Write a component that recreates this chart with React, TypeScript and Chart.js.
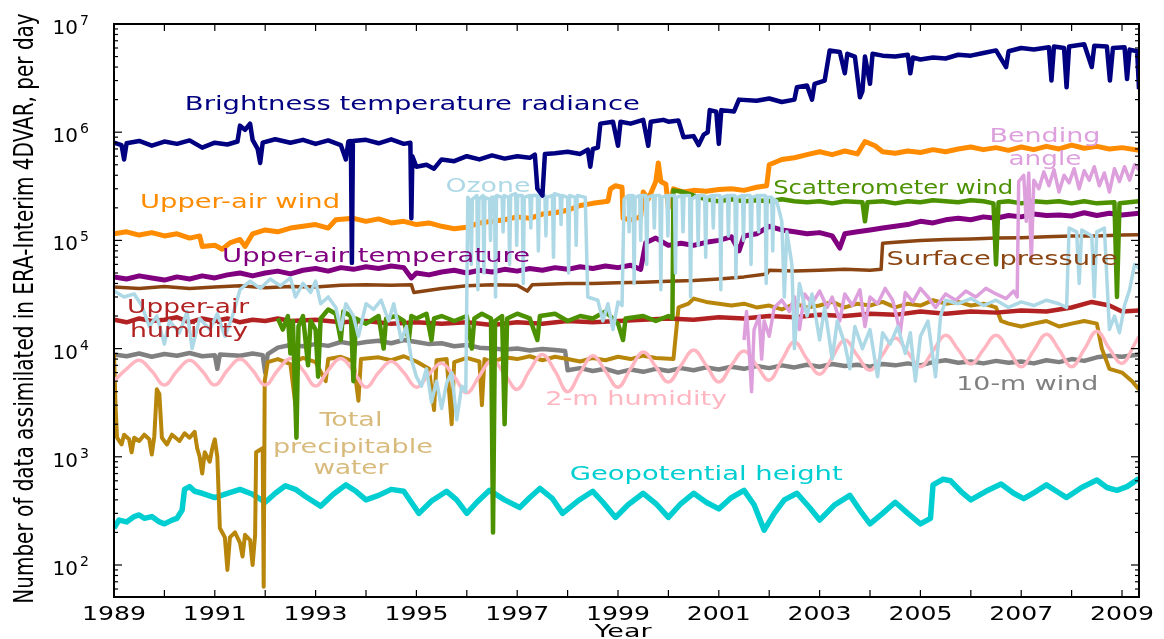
import React, { useEffect, useRef } from "react";
import { Chart, registerables } from "chart.js";

Chart.register(...registerables);

type Pt = [number, number];

const X_MIN = 1989;
const X_MAX = 2009.337;
const Y_MIN = 50.6;
const Y_MAX = 1e7;

const yearTicks = [1989, 1990, 1991, 1992, 1993, 1994, 1995, 1996, 1997, 1998, 1999, 2000, 2001, 2002, 2003, 2004, 2005, 2006, 2007, 2008, 2009];
const yearLabels = [1989, 1991, 1993, 1995, 1997, 1999, 2001, 2003, 2005, 2007, 2009];
const decadeTicks = [1e2, 1e3, 1e4, 1e5, 1e6, 1e7];
const decadeExponents = ["2", "3", "4", "5", "6", "7"];
const minorDecades = [10, 1e2, 1e3, 1e4, 1e5, 1e6];
const minorMultipliers = [2, 3, 4, 5, 6, 7, 8, 9];

const brightnessTemperatureRadiance: Pt[] = [
  [1989.0, 8.0e5], [1989.15, 7.6e5], [1989.2, 5.6e5], [1989.25, 7.9e5], [1989.5, 8.3e5], [1989.75, 7.5e5],
  [1990.0, 8.2e5], [1990.25, 7.8e5], [1990.5, 8.4e5], [1990.75, 7.2e5], [1991.0, 8.0e5], [1991.25, 7.7e5],
  [1991.45, 8.2e5], [1991.5, 1.15e6], [1991.6, 1.05e6], [1991.7, 1.2e6], [1991.75, 8.5e5], [1991.85, 7.0e5],
  [1991.9, 5.2e5], [1991.95, 8.0e5], [1992.2, 8.6e5], [1992.5, 8.0e5], [1992.75, 8.5e5], [1993.0, 7.8e5],
  [1993.25, 8.4e5], [1993.5, 7.6e5], [1993.6, 5.6e5], [1993.65, 8.2e5], [1993.7, 8.3e5], [1993.72, 6.2e4],
  [1993.74, 8.3e5], [1994.0, 8.5e5], [1994.25, 7.9e5], [1994.5, 8.6e5], [1994.75, 7.8e5], [1994.88, 8.0e5],
  [1994.9, 1.6e5], [1994.92, 6.0e5], [1995.0, 4.8e5], [1995.2, 5.0e5], [1995.35, 4.6e5], [1995.5, 5.6e5],
  [1995.75, 5.4e5], [1996.0, 6.0e5], [1996.25, 5.6e5], [1996.5, 6.1e5], [1996.75, 5.7e5], [1997.0, 6.0e5],
  [1997.25, 5.8e5], [1997.35, 6.2e5], [1997.4, 3.0e5], [1997.5, 2.6e5], [1997.55, 6.3e5], [1997.75, 6.4e5],
  [1998.0, 6.6e5], [1998.25, 6.3e5], [1998.4, 6.9e5], [1998.45, 4.8e5], [1998.5, 7.0e5], [1998.6, 7.2e5],
  [1998.65, 1.2e6], [1998.9, 1.25e6], [1999.0, 7.5e5], [1999.05, 1.25e6], [1999.25, 1.2e6], [1999.5, 1.3e6],
  [1999.6, 7.5e5], [1999.65, 1.25e6], [1999.9, 1.3e6], [2000.0, 1.25e6], [2000.2, 1.28e6], [2000.3, 9.0e5],
  [2000.5, 9.2e5], [2000.6, 7.6e5], [2000.7, 9.5e5], [2000.78, 1.0e6], [2000.82, 1.6e6], [2000.95, 1.55e6],
  [2001.0, 7.8e5], [2001.05, 1.6e6], [2001.3, 1.55e6], [2001.4, 2.0e6], [2001.75, 1.95e6], [2002.0, 2.05e6],
  [2002.25, 1.9e6], [2002.5, 2.0e6], [2002.55, 2.6e6], [2002.75, 2.7e6], [2002.85, 2.0e6], [2002.9, 2.8e6],
  [2003.1, 3.0e6], [2003.2, 5.7e6], [2003.4, 5.5e6], [2003.5, 3.5e6], [2003.55, 5.3e6], [2003.7, 5.0e6],
  [2003.8, 2.1e6], [2003.85, 2.4e6], [2003.9, 5.0e6], [2004.0, 2.8e6], [2004.05, 5.3e6], [2004.25, 5.1e6],
  [2004.5, 5.0e6], [2004.75, 5.2e6], [2004.8, 3.5e6], [2004.85, 4.9e6], [2005.0, 4.7e6], [2005.25, 4.9e6],
  [2005.5, 4.8e6], [2005.75, 5.2e6], [2006.0, 5.1e6], [2006.25, 5.4e6], [2006.5, 5.7e6], [2006.7, 4.0e6],
  [2006.75, 5.6e6], [2007.0, 6.0e6], [2007.25, 5.8e6], [2007.55, 6.1e6], [2007.6, 3.0e6], [2007.65, 6.2e6],
  [2007.85, 6.0e6], [2007.9, 2.6e6], [2007.95, 6.2e6], [2008.25, 6.5e6], [2008.4, 4.0e6], [2008.45, 6.3e6],
  [2008.7, 6.2e6], [2008.76, 3.0e6], [2008.82, 6.0e6], [2009.05, 6.1e6], [2009.1, 3.1e6], [2009.15, 5.8e6],
  [2009.3, 5.6e6], [2009.337, 2.5e6],
];

const upperAirWind: Pt[] = [
  [1989.0, 1.15e5], [1989.25, 1.2e5], [1989.5, 1.12e5], [1989.75, 1.18e5], [1990.0, 1.1e5], [1990.25, 1.15e5],
  [1990.5, 1.05e5], [1990.7, 1.1e5], [1990.75, 8.8e4], [1991.0, 9.0e4], [1991.15, 8.3e4], [1991.3, 9.5e4],
  [1991.5, 1.02e5], [1991.6, 8.8e4], [1991.75, 1.15e5], [1992.0, 1.25e5], [1992.25, 1.2e5], [1992.5, 1.3e5],
  [1992.75, 1.35e5], [1993.0, 1.4e5], [1993.25, 1.3e5], [1993.4, 1.55e5], [1993.75, 1.6e5], [1994.0, 1.5e5],
  [1994.25, 1.58e5], [1994.5, 1.45e5], [1994.75, 1.5e5], [1995.0, 1.4e5], [1995.25, 1.45e5], [1995.5, 1.35e5],
  [1995.75, 1.28e5], [1996.0, 1.32e5], [1996.25, 1.45e5], [1996.5, 1.5e5], [1996.75, 1.55e5], [1997.0, 1.65e5],
  [1997.25, 1.6e5], [1997.5, 1.75e5], [1997.75, 1.8e5], [1998.0, 1.9e5], [1998.25, 2.1e5], [1998.5, 2.2e5],
  [1998.8, 2.3e5], [1998.85, 3.0e5], [1998.95, 3.2e5], [1999.08, 3.1e5], [1999.1, 1.6e5], [1999.25, 1.55e5],
  [1999.45, 1.65e5], [1999.5, 2.8e5], [1999.6, 2.4e5], [1999.75, 3.5e5], [1999.8, 5.2e5], [1999.85, 3.5e5],
  [1999.95, 3.3e5], [2000.0, 2.0e5], [2000.1, 3.0e5], [2000.3, 2.8e5], [2000.5, 2.9e5], [2000.75, 2.85e5],
  [2001.0, 2.95e5], [2001.25, 3.0e5], [2001.5, 2.9e5], [2001.75, 3.1e5], [2001.95, 3.2e5], [2002.0, 5.0e5],
  [2002.25, 5.6e5], [2002.5, 5.8e5], [2002.75, 6.2e5], [2003.0, 6.6e5], [2003.25, 6.2e5], [2003.5, 6.7e5],
  [2003.75, 6.3e5], [2003.9, 8.2e5], [2004.1, 7.5e5], [2004.25, 6.6e5], [2004.5, 6.4e5], [2004.75, 6.7e5],
  [2005.0, 6.5e5], [2005.25, 6.9e5], [2005.5, 6.6e5], [2005.75, 7.0e5], [2006.0, 7.3e5], [2006.25, 6.9e5],
  [2006.5, 7.2e5], [2006.75, 6.8e5], [2007.0, 7.3e5], [2007.25, 6.9e5], [2007.5, 7.4e5], [2007.75, 7.0e5],
  [2008.0, 7.6e5], [2008.25, 7.1e5], [2008.5, 7.4e5], [2008.75, 7.0e5], [2009.0, 7.2e5], [2009.337, 6.8e5],
];

const upperAirTemperature: Pt[] = [
  [1989.0, 4.6e4], [1989.25, 4.4e4], [1989.5, 4.7e4], [1989.75, 4.5e4], [1990.0, 4.3e4], [1990.25, 4.6e4],
  [1990.5, 4.4e4], [1990.75, 4.7e4], [1991.0, 4.5e4], [1991.25, 4.8e4], [1991.5, 5.0e4], [1991.75, 4.7e4],
  [1992.0, 5.0e4], [1992.25, 5.2e4], [1992.5, 4.9e4], [1992.75, 5.3e4], [1993.0, 5.5e4], [1993.25, 5.2e4],
  [1993.5, 5.6e4], [1993.75, 5.4e4], [1994.0, 5.7e4], [1994.25, 5.5e4], [1994.5, 5.8e4], [1994.75, 5.6e4],
  [1994.9, 4.5e4], [1995.0, 5.0e4], [1995.25, 4.8e4], [1995.5, 5.1e4], [1995.75, 5.3e4], [1996.0, 5.0e4],
  [1996.25, 5.3e4], [1996.5, 5.1e4], [1996.75, 5.4e4], [1997.0, 5.2e4], [1997.25, 5.5e4], [1997.5, 5.3e4],
  [1997.75, 5.6e4], [1998.0, 5.4e4], [1998.25, 5.7e4], [1998.5, 5.5e4], [1998.75, 5.8e4], [1999.0, 5.6e4],
  [1999.25, 5.9e4], [1999.45, 5.4e4], [1999.55, 9.5e4], [1999.75, 1.05e5], [2000.0, 9.0e4], [2000.25, 9.4e4],
  [2000.5, 9.0e4], [2000.75, 9.6e4], [2001.0, 1.0e5], [2001.25, 1.08e5], [2001.4, 8.0e4], [2001.5, 1.1e5],
  [2001.75, 1.15e5], [2002.0, 1.35e5], [2002.25, 1.25e5], [2002.5, 1.2e5], [2002.75, 1.15e5], [2003.0, 1.18e5],
  [2003.25, 1.1e5], [2003.4, 8.5e4], [2003.5, 1.15e5], [2003.75, 1.2e5], [2004.0, 1.25e5], [2004.25, 1.3e5],
  [2004.5, 1.35e5], [2004.75, 1.4e5], [2005.0, 1.5e5], [2005.25, 1.45e5], [2005.5, 1.55e5], [2005.75, 1.6e5],
  [2006.0, 1.55e5], [2006.25, 1.65e5], [2006.5, 1.6e5], [2006.75, 1.7e5], [2007.0, 1.65e5], [2007.25, 1.75e5],
  [2007.5, 1.7e5], [2007.75, 1.72e5], [2008.0, 1.68e5], [2008.25, 1.8e5], [2008.5, 1.7e5], [2008.75, 1.78e5],
  [2009.0, 1.72e5], [2009.337, 1.78e5],
];

const surfacePressure: Pt[] = [
  [1989.0, 3.7e4], [1989.5, 3.6e4], [1990.0, 3.75e4], [1990.5, 3.6e4], [1991.0, 3.7e4], [1991.5, 3.8e4],
  [1992.0, 3.65e4], [1992.5, 3.75e4], [1993.0, 3.7e4], [1993.5, 3.85e4], [1994.0, 3.9e4], [1994.5, 3.85e4],
  [1994.9, 3.9e4], [1994.95, 3.3e4], [1995.5, 3.6e4], [1996.0, 3.8e4], [1996.5, 3.9e4], [1997.0, 3.85e4],
  [1997.2, 3.4e4], [1997.3, 3.9e4], [1998.0, 4.0e4], [1998.5, 4.0e4], [1999.0, 4.05e4], [1999.5, 4.1e4],
  [2000.0, 4.2e4], [2000.5, 4.25e4], [2001.0, 4.4e4], [2001.5, 4.6e4], [2001.95, 4.9e4], [2002.0, 5.3e4],
  [2002.5, 5.2e4], [2003.0, 5.3e4], [2003.5, 5.4e4], [2004.0, 5.3e4], [2004.22, 5.4e4], [2004.25, 9.4e4],
  [2004.5, 9.6e4], [2005.0, 1.0e5], [2005.5, 1.02e5], [2006.0, 1.03e5], [2006.5, 1.05e5], [2007.0, 1.06e5],
  [2007.5, 1.08e5], [2008.0, 1.1e5], [2008.5, 1.1e5], [2009.0, 1.12e5], [2009.337, 1.13e5],
];

const upperAirHumidity: Pt[] = [
  [1989.0, 1.85e4], [1989.25, 1.75e4], [1989.5, 1.9e4], [1989.75, 1.8e4], [1990.0, 1.85e4], [1990.25, 1.95e4],
  [1990.5, 1.75e4], [1990.75, 1.9e4], [1991.0, 1.8e4], [1991.25, 1.9e4], [1991.5, 1.75e4], [1991.75, 1.85e4],
  [1992.0, 1.8e4], [1992.25, 1.9e4], [1992.5, 1.8e4], [1993.0, 1.85e4], [1993.5, 1.75e4], [1994.0, 1.8e4],
  [1994.5, 1.7e4], [1995.0, 1.75e4], [1995.5, 1.7e4], [1996.0, 1.75e4], [1996.5, 1.65e4], [1997.0, 1.75e4],
  [1997.5, 1.7e4], [1998.0, 1.8e4], [1998.5, 1.75e4], [1999.0, 1.8e4], [1999.5, 1.85e4], [2000.0, 1.9e4],
  [2000.5, 1.85e4], [2001.0, 1.95e4], [2001.5, 1.9e4], [2002.0, 2.0e4], [2002.5, 1.95e4], [2003.0, 2.05e4],
  [2003.5, 2.0e4], [2004.0, 2.1e4], [2004.5, 2.05e4], [2005.0, 2.2e4], [2005.5, 2.1e4], [2006.0, 2.2e4],
  [2006.5, 2.15e4], [2007.0, 2.25e4], [2007.5, 2.2e4], [2008.0, 2.4e4], [2008.4, 2.7e4], [2008.75, 2.5e4],
  [2009.0, 2.2e4], [2009.337, 2.25e4],
];

const scatterometerWind: Pt[] = [
  [1992.25, 1.9e4], [1992.35, 1.5e4], [1992.45, 2.0e4], [1992.5, 9.0e3], [1992.55, 1.8e4], [1992.62, 1.5e3],
  [1992.66, 1.6e4], [1992.75, 2.0e4], [1992.85, 7.0e3], [1992.9, 1.8e4], [1993.0, 1.5e4], [1993.05, 5.5e3],
  [1993.1, 1.9e4], [1993.25, 2.3e4], [1993.4, 2.1e4], [1993.5, 1.2e4], [1993.55, 2.2e4], [1993.7, 2.0e4],
  [1993.75, 5.0e3], [1993.8, 1.9e4], [1994.0, 1.7e4], [1994.25, 2.0e4], [1994.35, 1.0e4], [1994.4, 1.9e4],
  [1994.6, 2.0e4], [1994.75, 1.8e4], [1994.85, 1.2e4], [1994.9, 2.0e4], [1995.0, 1.9e4], [1995.2, 2.1e4],
  [1995.3, 1.2e4], [1995.35, 1.9e4], [1995.5, 2.0e4], [1995.75, 1.8e4], [1996.0, 2.0e4], [1996.1, 1.0e4],
  [1996.15, 1.9e4], [1996.3, 2.1e4], [1996.48, 1.9e4], [1996.52, 2.0e2], [1996.56, 1.8e4], [1996.7, 2.0e4],
  [1996.75, 2.0e3], [1996.8, 1.9e4], [1997.0, 2.1e4], [1997.25, 1.9e4], [1997.4, 1.2e4], [1997.45, 2.0e4],
  [1997.75, 2.1e4], [1998.0, 1.8e4], [1998.25, 2.0e4], [1998.5, 1.9e4], [1998.75, 2.2e4], [1999.0, 1.7e4],
  [1999.1, 1.2e4], [1999.15, 1.9e4], [1999.5, 2.0e4], [1999.75, 1.8e4], [2000.0, 2.0e4], [2000.08, 1.9e4],
  [2000.1, 2.9e5], [2000.3, 2.8e5], [2000.5, 2.6e5], [2000.75, 2.4e5], [2001.0, 2.3e5], [2001.25, 2.4e5],
  [2001.5, 2.3e5], [2001.75, 2.35e5], [2002.0, 2.3e5], [2002.25, 2.4e5], [2002.5, 2.3e5], [2002.75, 2.25e5],
  [2003.0, 2.3e5], [2003.25, 2.2e5], [2003.5, 2.3e5], [2003.85, 2.25e5], [2003.9, 1.5e5], [2003.95, 2.25e5],
  [2004.25, 2.3e5], [2004.5, 2.2e5], [2004.75, 2.3e5], [2005.0, 2.25e5], [2005.25, 2.35e5], [2005.5, 2.3e5],
  [2005.75, 2.25e5], [2006.0, 2.35e5], [2006.25, 2.3e5], [2006.45, 2.2e5], [2006.5, 6.0e4], [2006.55, 2.25e5],
  [2006.75, 2.3e5], [2007.0, 2.2e5], [2007.25, 2.3e5], [2007.5, 2.25e5], [2007.75, 2.3e5], [2008.0, 2.2e5],
  [2008.25, 2.3e5], [2008.5, 2.2e5], [2008.85, 2.25e5], [2008.9, 3.0e4], [2008.95, 2.2e5], [2009.337, 2.3e5],
];

const ozone: Pt[] = [
  [1989.0, 3.4e4], [1989.2, 3.0e4], [1989.4, 3.2e4], [1989.55, 2.5e4], [1989.7, 1.6e4], [1989.85, 2.0e4],
  [1990.0, 1.1e4], [1990.1, 1.8e4], [1990.3, 1.4e4], [1990.45, 2.2e4], [1990.55, 1.0e4], [1990.7, 1.9e4],
  [1990.9, 1.5e4], [1991.05, 2.1e4], [1991.2, 1.3e4], [1991.35, 2.0e4], [1991.5, 3.5e4], [1991.7, 4.2e4],
  [1991.9, 3.6e4], [1992.1, 4.4e4], [1992.3, 3.8e4], [1992.5, 4.5e4], [1992.6, 3.0e4], [1992.75, 4.0e4],
  [1992.9, 3.3e4], [1993.0, 4.2e4], [1993.1, 2.6e4], [1993.25, 3.0e4], [1993.4, 2.4e4], [1993.5, 1.5e4],
  [1993.6, 2.6e4], [1993.75, 2.0e4], [1993.85, 1.3e4], [1994.0, 2.6e4], [1994.15, 2.3e4], [1994.3, 2.8e4],
  [1994.45, 1.8e4], [1994.55, 2.6e4], [1994.7, 1.2e4], [1994.8, 1.6e4], [1994.9, 8.0e3], [1995.0, 5.5e3],
  [1995.1, 4.5e3], [1995.2, 6.5e3], [1995.3, 3.2e3], [1995.4, 5.0e3], [1995.5, 2.8e3], [1995.6, 4.8e3],
  [1995.7, 6.0e3], [1995.8, 2.2e3], [1995.9, 4.5e3], [1995.98, 4.0e3], [1996.02, 2.5e5], [1996.07, 2.3e5],
  [1996.09, 6.0e4], [1996.11, 2.4e5], [1996.2, 2.6e5], [1996.22, 3.5e4], [1996.24, 2.4e5], [1996.32, 2.6e5],
  [1996.34, 5.0e4], [1996.36, 2.5e5], [1996.45, 2.4e5], [1996.47, 1.0e5], [1996.49, 2.5e5], [1996.55, 2.5e5],
  [1996.57, 3.0e4], [1996.59, 2.6e5], [1996.7, 2.5e5], [1996.72, 1.2e5], [1996.74, 2.6e5], [1996.83, 2.5e5],
  [1996.85, 6.0e4], [1996.87, 2.6e5], [1996.97, 2.7e5], [1996.99, 9.0e4], [1997.01, 2.6e5], [1997.1, 2.6e5],
  [1997.12, 4.0e4], [1997.14, 2.5e5], [1997.25, 2.6e5], [1997.27, 1.3e5], [1997.29, 2.6e5], [1997.4, 2.6e5],
  [1997.42, 8.0e4], [1997.44, 2.5e5], [1997.55, 2.6e5], [1997.57, 1.1e5], [1997.59, 2.5e5], [1997.7, 2.6e5],
  [1997.72, 7.0e4], [1997.74, 2.7e5], [1997.85, 2.6e5], [1997.87, 1.4e5], [1997.89, 2.6e5], [1998.0, 2.5e5],
  [1998.02, 5.0e4], [1998.04, 2.6e5], [1998.15, 2.5e5], [1998.17, 9.0e4], [1998.19, 2.6e5], [1998.35, 2.5e5],
  [1998.4, 3.0e4], [1998.6, 2.8e4], [1998.7, 1.8e4], [1998.8, 2.6e4], [1998.9, 1.5e4], [1999.0, 2.7e4],
  [1999.08, 2.5e4], [1999.12, 2.4e5], [1999.2, 2.6e5], [1999.22, 1.2e5], [1999.24, 2.6e5], [1999.3, 2.6e5],
  [1999.32, 4.0e4], [1999.34, 2.5e5], [1999.43, 2.6e5], [1999.45, 1.0e5], [1999.47, 2.6e5], [1999.55, 2.6e5],
  [1999.57, 6.0e4], [1999.59, 2.5e5], [1999.7, 2.6e5], [1999.72, 1.3e5], [1999.74, 2.6e5], [1999.83, 2.6e5],
  [1999.85, 3.5e4], [1999.87, 2.5e5], [1999.97, 2.6e5], [1999.99, 1.1e5], [2000.01, 2.6e5], [2000.12, 2.6e5],
  [2000.14, 5.0e4], [2000.16, 2.5e5], [2000.27, 2.6e5], [2000.29, 1.2e5], [2000.31, 2.6e5], [2000.42, 2.6e5],
  [2000.44, 3.0e4], [2000.46, 2.4e5], [2000.57, 2.6e5], [2000.59, 9.0e4], [2000.61, 2.6e5], [2000.72, 2.6e5],
  [2000.74, 7.0e4], [2000.76, 2.5e5], [2000.87, 2.6e5], [2000.89, 1.3e5], [2000.91, 2.6e5], [2001.02, 2.6e5],
  [2001.04, 3.5e4], [2001.06, 2.5e5], [2001.17, 2.6e5], [2001.19, 1.1e5], [2001.21, 2.6e5], [2001.32, 2.6e5],
  [2001.34, 4.5e4], [2001.36, 2.5e5], [2001.47, 2.6e5], [2001.49, 1.0e5], [2001.51, 2.6e5], [2001.62, 2.6e5],
  [2001.64, 6.0e4], [2001.66, 2.5e5], [2001.77, 2.6e5], [2001.79, 1.2e5], [2001.81, 2.6e5], [2001.92, 2.6e5],
  [2001.94, 4.0e4], [2001.96, 2.5e5], [2002.05, 2.5e5], [2002.07, 8.0e4], [2002.09, 2.4e5], [2002.15, 2.3e5],
  [2002.25, 1.5e5], [2002.3, 3.0e4], [2002.35, 1.2e5], [2002.45, 6.0e4], [2002.5, 1.0e4], [2002.6, 4.0e4],
  [2002.75, 2.0e4], [2002.85, 3.2e4], [2003.0, 1.2e4], [2003.1, 2.4e4], [2003.25, 8.0e3], [2003.35, 1.8e4],
  [2003.5, 1.1e4], [2003.6, 6.5e3], [2003.7, 1.6e4], [2003.85, 1.0e4], [2004.0, 1.5e4], [2004.15, 5.5e3],
  [2004.25, 1.4e4], [2004.4, 1.1e4], [2004.55, 1.6e4], [2004.7, 9.0e3], [2004.8, 1.4e4], [2004.9, 5.0e3],
  [2005.0, 1.3e4], [2005.15, 1.8e4], [2005.3, 5.5e3], [2005.4, 2.0e4], [2005.5, 2.8e4], [2005.75, 2.6e4],
  [2006.0, 2.9e4], [2006.25, 2.5e4], [2006.5, 2.8e4], [2006.75, 2.4e4], [2007.0, 2.7e4], [2007.25, 2.5e4],
  [2007.5, 2.8e4], [2007.75, 2.6e4], [2007.9, 2.4e4], [2007.95, 1.3e5], [2008.1, 1.2e5], [2008.15, 4.0e4],
  [2008.2, 1.25e5], [2008.4, 1.1e5], [2008.45, 3.0e4], [2008.5, 1.2e5], [2008.65, 1.3e5], [2008.75, 1.5e4],
  [2008.85, 2.0e4], [2008.95, 1.4e4], [2009.05, 2.5e4], [2009.15, 3.5e4], [2009.25, 6.0e4], [2009.337, 5.5e4],
];

const tenMetreWind: Pt[] = [
  [1989.0, 8.8e3], [1989.25, 8.5e3], [1989.5, 9.0e3], [1989.75, 8.4e3], [1990.0, 8.9e3], [1990.25, 8.6e3],
  [1990.5, 9.1e3], [1990.75, 8.5e3], [1991.0, 8.7e3], [1991.05, 6.5e3], [1991.1, 8.8e3], [1991.5, 8.6e3],
  [1991.75, 9.0e3], [1991.95, 8.7e3], [1992.0, 6.0e3], [1992.05, 8.9e3], [1992.25, 1.02e4], [1992.5, 1.08e4],
  [1992.75, 1.05e4], [1993.0, 1.1e4], [1993.25, 1.06e4], [1993.5, 1.15e4], [1993.75, 1.1e4], [1994.0, 1.15e4],
  [1994.25, 1.18e4], [1994.5, 1.12e4], [1994.75, 1.2e4], [1995.0, 1.15e4], [1995.25, 1.1e4], [1995.5, 1.12e4],
  [1995.75, 1.05e4], [1996.0, 1.08e4], [1996.25, 1.02e4], [1996.5, 1.0e4], [1996.75, 9.8e3], [1997.0, 1.0e4],
  [1997.25, 9.6e3], [1997.5, 9.9e3], [1997.75, 9.7e3], [1997.95, 9.5e3], [1998.0, 6.3e3], [1998.25, 6.6e3],
  [1998.5, 6.2e3], [1998.75, 6.5e3], [1999.0, 6.0e3], [1999.25, 6.4e3], [1999.5, 6.1e3], [1999.75, 6.5e3],
  [2000.0, 6.2e3], [2000.25, 6.6e3], [2000.5, 6.3e3], [2000.75, 6.7e3], [2001.0, 6.4e3], [2001.25, 6.8e3],
  [2001.5, 6.5e3], [2001.75, 6.9e3], [2002.0, 6.6e3], [2002.25, 7.0e3], [2002.5, 6.7e3], [2002.75, 7.1e3],
  [2003.0, 6.8e3], [2003.25, 7.2e3], [2003.5, 6.9e3], [2003.75, 7.1e3], [2004.0, 6.8e3], [2004.25, 7.2e3],
  [2004.5, 7.0e3], [2004.75, 7.3e3], [2005.0, 7.0e3], [2005.25, 7.5e3], [2005.5, 7.8e3], [2005.75, 7.4e3],
  [2006.0, 7.6e3], [2006.25, 7.3e3], [2006.5, 7.7e3], [2006.75, 7.4e3], [2007.0, 7.6e3], [2007.25, 7.3e3],
  [2007.5, 7.8e3], [2007.75, 7.5e3], [2008.0, 8.0e3], [2008.25, 7.7e3], [2008.5, 8.3e3], [2008.75, 8.6e3],
  [2009.0, 8.4e3], [2009.337, 8.8e3],
];

const twoMetreHumidity: Pt[] = [
  [1989.0, 5.0e3], [1989.25, 6.5e3], [1989.5, 7.8e3], [1989.75, 6.2e3], [1990.0, 4.6e3], [1990.25, 6.2e3],
  [1990.5, 7.8e3], [1990.75, 6.2e3], [1991.0, 4.6e3], [1991.25, 6.3e3], [1991.5, 8.0e3], [1991.75, 6.3e3],
  [1992.0, 4.6e3], [1992.25, 6.3e3], [1992.5, 8.1e3], [1992.75, 6.3e3], [1993.0, 4.5e3], [1993.25, 6.3e3],
  [1993.5, 8.1e3], [1993.75, 6.2e3], [1994.0, 4.4e3], [1994.25, 6.0e3], [1994.5, 7.6e3], [1994.75, 6.0e3],
  [1995.0, 4.4e3], [1995.25, 5.8e3], [1995.5, 7.3e3], [1995.75, 5.5e3], [1996.0, 3.9e3], [1996.25, 5.6e3],
  [1996.5, 7.8e3], [1996.75, 5.8e3], [1997.0, 4.2e3], [1997.25, 6.3e3], [1997.5, 8.8e3], [1997.75, 6.2e3],
  [1998.0, 4.0e3], [1998.25, 6.0e3], [1998.5, 8.6e3], [1998.75, 6.2e3], [1999.0, 4.4e3], [1999.25, 6.5e3],
  [1999.5, 9.3e3], [1999.75, 6.8e3], [2000.0, 4.9e3], [2000.25, 7.0e3], [2000.5, 9.7e3], [2000.75, 7.0e3],
  [2001.0, 4.9e3], [2001.25, 7.0e3], [2001.5, 9.5e3], [2001.75, 7.0e3], [2002.0, 5.1e3], [2002.25, 7.8e3],
  [2002.5, 1.15e4], [2002.75, 8.0e3], [2003.0, 5.8e3], [2003.25, 8.3e3], [2003.5, 1.2e4], [2003.75, 8.6e3],
  [2004.0, 6.3e3], [2004.25, 8.8e3], [2004.5, 1.25e4], [2004.75, 9.2e3], [2005.0, 6.8e3], [2005.25, 9.5e3],
  [2005.5, 1.33e4], [2005.75, 9.8e3], [2006.0, 7.2e3], [2006.25, 9.8e3], [2006.5, 1.33e4], [2006.75, 9.7e3],
  [2007.0, 6.8e3], [2007.25, 9.6e3], [2007.5, 1.36e4], [2007.75, 9.8e3], [2008.0, 6.8e3], [2008.25, 9.8e3],
  [2008.5, 1.45e4], [2008.75, 1.0e4], [2009.0, 7.3e3], [2009.25, 1.1e4], [2009.337, 1.3e4],
];

const totalPrecipitableWater: Pt[] = [
  [1989.0, 9.0e3], [1989.03, 3.0e3], [1989.06, 1.5e3], [1989.15, 1.3e3], [1989.2, 1.6e3], [1989.3, 1.45e3],
  [1989.35, 1.1e3], [1989.4, 1.5e3], [1989.5, 1.4e3], [1989.6, 1.6e3], [1989.7, 1.45e3], [1989.75, 1.05e3],
  [1989.8, 1.55e3], [1989.85, 4.2e3], [1989.9, 3.8e3], [1989.95, 1.5e3], [1990.05, 1.3e3], [1990.15, 1.6e3],
  [1990.3, 1.4e3], [1990.4, 1.65e3], [1990.5, 1.5e3], [1990.6, 1.7e3], [1990.65, 1.2e3], [1990.7, 1.0e3],
  [1990.75, 7.0e2], [1990.8, 1.1e3], [1990.9, 9.0e2], [1990.95, 1.2e3], [1991.0, 1.45e3], [1991.05, 1.0e3],
  [1991.1, 2.2e2], [1991.2, 1.8e2], [1991.25, 9.0e1], [1991.3, 1.8e2], [1991.4, 2.0e2], [1991.5, 1.6e2],
  [1991.55, 1.2e2], [1991.6, 1.9e2], [1991.7, 1.7e2], [1991.75, 1.0e2], [1991.8, 1.9e2], [1991.82, 1.1e3],
  [1991.95, 1.2e3], [1991.97, 6.3e1], [1991.99, 5.0e3], [1992.05, 7.5e3], [1992.25, 8.0e3], [1992.5, 7.2e3],
  [1992.6, 3.0e3], [1992.65, 7.8e3], [1992.75, 8.2e3], [1993.0, 7.5e3], [1993.2, 5.0e3], [1993.25, 8.0e3],
  [1993.5, 8.4e3], [1993.75, 7.6e3], [1993.85, 3.3e3], [1993.9, 8.0e3], [1994.25, 8.3e3], [1994.5, 7.8e3],
  [1994.75, 8.5e3], [1995.0, 7.6e3], [1995.25, 6.5e3], [1995.35, 2.7e3], [1995.4, 7.8e3], [1995.6, 8.0e3],
  [1995.7, 2.0e3], [1995.75, 7.5e3], [1996.0, 8.2e3], [1996.25, 7.6e3], [1996.3, 3.0e3], [1996.35, 8.0e3],
  [1996.5, 7.5e3], [1996.75, 8.3e3], [1997.0, 8.0e3], [1997.25, 8.5e3], [1997.5, 7.8e3], [1997.75, 8.4e3],
  [1998.0, 8.0e3], [1998.25, 7.6e3], [1998.5, 8.2e3], [1998.75, 7.8e3], [1999.0, 8.4e3], [1999.25, 8.0e3],
  [1999.5, 8.6e3], [1999.75, 8.2e3], [2000.1, 8.0e3], [2000.2, 2.4e4], [2000.4, 2.6e4], [2000.5, 2.9e4],
  [2000.75, 2.7e4], [2001.0, 2.6e4], [2001.25, 2.5e4], [2001.5, 2.6e4], [2001.75, 2.4e4], [2002.0, 2.5e4],
  [2002.25, 2.3e4], [2002.5, 2.6e4], [2002.75, 2.4e4], [2003.0, 2.5e4], [2003.25, 2.7e4], [2003.5, 2.4e4],
  [2003.75, 2.6e4], [2004.0, 2.5e4], [2004.25, 2.7e4], [2004.5, 2.4e4], [2004.75, 2.6e4], [2005.0, 2.5e4],
  [2005.25, 2.8e4], [2005.5, 2.6e4], [2005.75, 2.7e4], [2006.0, 2.5e4], [2006.25, 2.6e4], [2006.5, 2.4e4],
  [2006.6, 1.8e4], [2006.75, 1.7e4], [2007.0, 1.6e4], [2007.25, 1.7e4], [2007.5, 1.8e4], [2007.75, 1.6e4],
  [2008.0, 1.7e4], [2008.25, 1.8e4], [2008.5, 1.7e4], [2008.6, 1.0e4], [2008.75, 6.5e3], [2009.0, 6.0e3],
  [2009.2, 5.0e3], [2009.337, 4.2e3],
];

const bendingAngle: Pt[] = [
  [2001.5, 1.2e4], [2001.55, 2.2e4], [2001.6, 1.0e4], [2001.65, 4.0e3], [2001.7, 1.5e4], [2001.8, 2.0e4],
  [2001.85, 8.0e3], [2001.9, 1.8e4], [2002.0, 1.3e4], [2002.1, 2.4e4], [2002.25, 2.8e4], [2002.4, 2.2e4],
  [2002.5, 3.0e4], [2002.6, 1.5e4], [2002.7, 3.2e4], [2002.85, 2.6e4], [2003.0, 3.4e4], [2003.15, 2.4e4],
  [2003.25, 3.0e4], [2003.4, 1.8e4], [2003.5, 3.2e4], [2003.65, 2.5e4], [2003.8, 3.5e4], [2003.9, 1.6e4],
  [2004.0, 3.0e4], [2004.15, 2.6e4], [2004.3, 3.6e4], [2004.45, 2.8e4], [2004.6, 1.4e4], [2004.7, 3.3e4],
  [2004.85, 2.7e4], [2005.0, 3.6e4], [2005.15, 3.0e4], [2005.3, 2.4e4], [2005.5, 3.2e4], [2005.7, 2.8e4],
  [2005.9, 3.4e4], [2006.1, 3.0e4], [2006.3, 3.6e4], [2006.5, 3.2e4], [2006.7, 2.9e4], [2006.85, 3.4e4],
  [2006.92, 3.0e4], [2006.95, 3.5e5], [2007.05, 4.0e5], [2007.1, 1.5e5], [2007.15, 4.2e5], [2007.2, 6.5e4],
  [2007.25, 3.6e5], [2007.35, 3.0e5], [2007.45, 4.3e5], [2007.55, 3.2e5], [2007.65, 4.5e5], [2007.75, 2.8e5],
  [2007.85, 4.0e5], [2007.95, 3.4e5], [2008.05, 4.6e5], [2008.15, 3.0e5], [2008.25, 4.4e5], [2008.35, 3.6e5],
  [2008.45, 4.8e5], [2008.55, 3.2e5], [2008.65, 4.2e5], [2008.75, 2.8e5], [2008.85, 4.6e5], [2008.95, 3.5e5],
  [2009.05, 4.8e5], [2009.15, 3.6e5], [2009.25, 5.0e5], [2009.337, 4.5e5],
];

const geopotentialHeight: Pt[] = [
  [1989.0, 2.2e2], [1989.1, 2.6e2], [1989.25, 2.5e2], [1989.4, 2.8e2], [1989.5, 2.9e2], [1989.6, 2.7e2],
  [1989.75, 2.8e2], [1989.9, 2.5e2], [1990.0, 2.4e2], [1990.15, 2.6e2], [1990.25, 2.7e2], [1990.35, 3.2e2],
  [1990.4, 5.0e2], [1990.5, 5.3e2], [1990.6, 4.8e2], [1990.75, 4.6e2], [1991.0, 4.2e2], [1991.25, 4.6e2],
  [1991.5, 5.0e2], [1991.75, 4.5e2], [1992.0, 3.8e2], [1992.2, 4.6e2], [1992.4, 5.4e2], [1992.6, 5.0e2],
  [1992.8, 4.3e2], [1993.1, 3.5e2], [1993.35, 4.5e2], [1993.6, 5.5e2], [1993.8, 4.8e2], [1994.0, 4.0e2],
  [1994.25, 4.4e2], [1994.5, 5.0e2], [1994.75, 4.8e2], [1995.05, 3.0e2], [1995.3, 3.9e2], [1995.6, 4.8e2],
  [1995.8, 4.0e2], [1996.0, 3.0e2], [1996.2, 3.8e2], [1996.45, 4.9e2], [1996.75, 4.0e2], [1997.05, 3.4e2],
  [1997.25, 4.2e2], [1997.45, 5.1e2], [1997.7, 4.1e2], [1997.9, 3.0e2], [1998.2, 3.9e2], [1998.5, 4.8e2],
  [1998.7, 3.8e2], [1998.95, 2.75e2], [1999.2, 3.6e2], [1999.5, 4.6e2], [1999.75, 3.7e2], [2000.0, 2.75e2],
  [2000.25, 3.7e2], [2000.5, 4.6e2], [2000.75, 3.8e2], [2001.0, 3.3e2], [2001.25, 4.2e2], [2001.5, 4.9e2],
  [2001.7, 3.6e2], [2001.9, 2.1e2], [2002.1, 3.0e2], [2002.3, 4.0e2], [2002.55, 4.6e2], [2002.8, 3.4e2],
  [2003.0, 2.6e2], [2003.3, 3.6e2], [2003.6, 4.4e2], [2003.8, 3.2e2], [2004.0, 2.4e2], [2004.25, 3.0e2],
  [2004.5, 3.8e2], [2004.75, 3.0e2], [2005.0, 2.4e2], [2005.2, 2.7e2], [2005.25, 5.5e2], [2005.45, 6.2e2],
  [2005.6, 6.0e2], [2005.8, 4.8e2], [2006.0, 4.0e2], [2006.3, 4.8e2], [2006.6, 5.6e2], [2006.85, 4.6e2],
  [2007.05, 4.1e2], [2007.3, 4.8e2], [2007.5, 5.5e2], [2007.7, 4.8e2], [2007.9, 4.2e2], [2008.2, 5.2e2],
  [2008.5, 6.1e2], [2008.7, 5.2e2], [2008.9, 4.9e2], [2009.1, 5.3e2], [2009.337, 6.3e2],
];

// drawing order: first entry is drawn on top
const seriesList = [
  { name: "Brightness temperature radiance", color: "#000080", data: brightnessTemperatureRadiance, width: 4.5, tension: 0 },
  { name: "Ozone", color: "#ADD8E6", data: ozone, width: 3.5, tension: 0 },
  { name: "Bending angle", color: "#DDA0DD", data: bendingAngle, width: 3.5, tension: 0 },
  { name: "Scatterometer wind", color: "#4C9100", data: scatterometerWind, width: 4.5, tension: 0 },
  { name: "Upper-air wind", color: "#FF8C00", data: upperAirWind, width: 5, tension: 0 },
  { name: "Upper-air temperature", color: "#800080", data: upperAirTemperature, width: 5, tension: 0 },
  { name: "Surface pressure", color: "#8B4513", data: surfacePressure, width: 3.5, tension: 0 },
  { name: "Upper-air humidity", color: "#B22222", data: upperAirHumidity, width: 4.5, tension: 0 },
  { name: "2-m humidity", color: "#FFB6C1", data: twoMetreHumidity, width: 3.5, tension: 0.4 },
  { name: "Total precipitable water", color: "#B8860B", data: totalPrecipitableWater, width: 4, tension: 0 },
  { name: "10-m wind", color: "#808080", data: tenMetreWind, width: 4.5, tension: 0 },
  { name: "Geopotential height", color: "#00CED1", data: geopotentialHeight, width: 5.5, tension: 0 },
];

// in-plot labels: x = year of text centre, y = value at text baseline, w = text width in px
const labelItems = [
  { text: "Brightness temperature radiance", color: "#000080", x: 1994.92, y: 1.6e6, w: 455 },
  { text: "Upper-air wind", color: "#FF8C00", x: 1991.5, y: 1.99e5, w: 200 },
  { text: "Upper-air temperature", color: "#800080", x: 1994.2, y: 6.3e4, w: 308 },
  { text: "Upper-air", color: "#B22222", x: 1990.47, y: 2.13e4, w: 122 },
  { text: "humidity", color: "#B22222", x: 1990.49, y: 1.28e4, w: 118 },
  { text: "Ozone", color: "#ADD8E6", x: 1996.42, y: 2.8e5, w: 85 },
  { text: "Scatterometer wind", color: "#4C9100", x: 2004.46, y: 2.69e5, w: 240 },
  { text: "Bending", color: "#DDA0DD", x: 2007.47, y: 8.1e5, w: 111 },
  { text: "angle", color: "#DDA0DD", x: 2007.47, y: 4.98e5, w: 73 },
  { text: "Surface pressure", color: "#8B4513", x: 2006.62, y: 5.93e4, w: 231 },
  { text: "10-m wind", color: "#808080", x: 2007.12, y: 4.14e3, w: 142 },
  { text: "2-m humidity", color: "#FFB6C1", x: 1999.36, y: 3.01e3, w: 182 },
  { text: "Total", color: "#D8BB7C", x: 1993.7, y: 1.93e3, w: 63 },
  { text: "precipitable", color: "#D8BB7C", x: 1993.74, y: 1.08e3, w: 160 },
  { text: "water", color: "#D8BB7C", x: 1993.7, y: 6.93e2, w: 75 },
  { text: "Geopotential height", color: "#00CED1", x: 2000.75, y: 6.1e2, w: 273 },
];

const FONT = '"DejaVu Sans", "Liberation Sans", sans-serif';

function drawFitted(ctx: CanvasRenderingContext2D, text: string, cx: number, baseline: number, size: number, width: number, color: string) {
  ctx.save();
  ctx.font = `${size}px ${FONT}`;
  const m = ctx.measureText(text).width;
  const sx = width / m;
  ctx.translate(cx, baseline);
  ctx.scale(sx, 1);
  ctx.fillStyle = color;
  ctx.textAlign = "center";
  ctx.textBaseline = "alphabetic";
  ctx.fillText(text, 0, 0);
  ctx.restore();
}

const decorations = {
  id: "decorations",
  beforeDraw(chart: any) {
    const { ctx, width, height } = chart;
    ctx.save();
    ctx.fillStyle = "#ffffff";
    ctx.fillRect(0, 0, width, height);
    ctx.restore();
  },
  afterDraw(chart: any) {
    const ctx: CanvasRenderingContext2D = chart.ctx;
    const xs = chart.scales.x;
    const ys = chart.scales.y;
    const a = chart.chartArea;

    for (const l of labelItems) {
      drawFitted(ctx, l.text, xs.getPixelForValue(l.x), ys.getPixelForValue(l.y), 20, l.w, l.color);
    }

    ctx.save();
    ctx.strokeStyle = "#000";
    ctx.lineWidth = 1.2;
    const seg = (x1: number, y1: number, x2: number, y2: number) => {
      ctx.beginPath();
      ctx.moveTo(x1, y1);
      ctx.lineTo(x2, y2);
      ctx.stroke();
    };
    for (const yr of yearTicks) {
      const px = xs.getPixelForValue(yr);
      seg(px, a.bottom, px, a.bottom - 7);
      seg(px, a.top, px, a.top + 7);
    }
    for (const v of decadeTicks) {
      const py = ys.getPixelForValue(v);
      seg(a.left, py, a.left + 8, py);
      seg(a.right, py, a.right - 8, py);
    }
    for (const d of minorDecades) {
      for (const m of minorMultipliers) {
        const v = d * m;
        if (v < Y_MIN || v > Y_MAX) continue;
        const py = ys.getPixelForValue(v);
        seg(a.left, py, a.left + 4, py);
        seg(a.right, py, a.right - 4, py);
      }
    }
    ctx.lineWidth = 2;
    ctx.strokeRect(a.left, a.top, a.right - a.left, a.bottom - a.top);
    ctx.restore();

    for (const yr of yearLabels) {
      drawFitted(ctx, String(yr), xs.getPixelForValue(yr), 620, 20, 64, "#000");
    }
    ctx.save();
    ctx.fillStyle = "#000";
    decadeTicks.forEach((v, i) => {
      const py = ys.getPixelForValue(v);
      ctx.font = `20px ${FONT}`;
      ctx.textAlign = "right";
      ctx.textBaseline = "alphabetic";
      ctx.fillText("10", 78, py + 10);
      ctx.font = `14px ${FONT}`;
      ctx.textAlign = "left";
      ctx.fillText(decadeExponents[i], 80, py + 1);
    });
    ctx.restore();

    drawFitted(ctx, "Year", 623, 637, 18, 57, "#000");
    ctx.save();
    ctx.font = `20px ${FONT}`;
    ctx.fillStyle = "#000";
    ctx.translate(33, 308.5);
    ctx.rotate(-Math.PI / 2);
    ctx.scale(1, 1.37);
    ctx.textAlign = "center";
    ctx.textBaseline = "alphabetic";
    ctx.fillText("Number of data assimilated in ERA-Interim 4DVAR, per day", 0, 0);
    ctx.restore();
  },
};

export default function App() {
  const ref = useRef<HTMLCanvasElement | null>(null);
  useEffect(() => {
    document.body.style.margin = "0";
    const canvas = ref.current;
    if (!canvas) return;
    const chart = new Chart(canvas, {
      type: "line",
      data: {
        datasets: seriesList.map((s) => ({
          label: s.name,
          data: s.data as any,
          borderColor: s.color,
          backgroundColor: s.color,
          borderWidth: s.width,
          borderJoinStyle: "round" as const,
          pointRadius: 0,
          tension: s.tension,
          fill: false,
        })),
      },
      options: {
        responsive: false,
        animation: false,
        devicePixelRatio: 1,
        layout: { padding: { left: 114, right: 25, top: 24, bottom: 42 } },
        plugins: { legend: { display: false }, tooltip: { enabled: false } },
        events: [],
        scales: {
          x: { type: "linear", min: X_MIN, max: X_MAX, display: false },
          y: { type: "logarithmic", min: Y_MIN, max: Y_MAX, display: false },
        },
      },
      plugins: [decorations],
    });
    return () => chart.destroy();
  }, []);
  return <canvas ref={ref} width={1164} height={639} style={{ display: "block" }} />;
}
